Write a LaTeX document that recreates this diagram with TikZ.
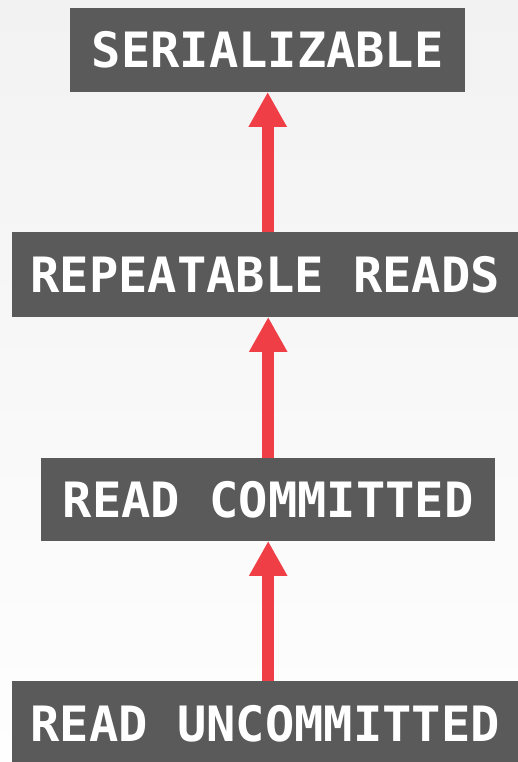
\documentclass[tikz,border=0pt]{standalone}
\usepackage{fontspec}
\setmonofont{DejaVu Sans Mono}
\usetikzlibrary{arrows.meta}
\definecolor{boxgray}{HTML}{5A5A5A}
\definecolor{arrowred}{HTML}{EF3E45}
\definecolor{bgtop}{HTML}{F2F2F2}
\definecolor{bgbot}{HTML}{FEFEFE}
\tikzset{
  levelbox/.style={fill=boxgray, text=white, inner sep=0pt, font=\fontsize{48.7pt}{48.7pt}\selectfont\ttfamily\bfseries, text height=35.5pt, text depth=0pt, anchor=south west},
  uparrow/.style={draw=arrowred, line width=12pt, -{Triangle[width=36pt,length=35pt]}}
}
\begin{document}
\begin{tikzpicture}[x=1pt,y=1pt]
\useasboundingbox (0,0) rectangle (518,762);
\shade[top color=bgtop, bottom color=bgbot] (0,0) rectangle (518,762);
\begin{scope}
\clip (0,0) rectangle (518,762);
\node[levelbox, minimum width=395pt, minimum height=84pt] (ser) at (70,670) {SERIALIZABLE};
\node[levelbox, minimum width=506pt, minimum height=85pt] (rr) at (12,445) {REPEATABLE READS};
\node[levelbox, minimum width=454pt, minimum height=83pt] (rc) at (41,221) {READ COMMITTED};
\node[levelbox, minimum width=506pt, minimum height=86pt] (ru) at (12,-5) {READ UNCOMMITTED};
\end{scope}
\draw[uparrow] (ru.north -| rc.south) -- (rc.south);
\draw[uparrow] (rc.north) -- (rr.south -| rc.north);
\draw[uparrow] (rr.north -| ser.south) -- (ser.south);
\end{tikzpicture}
\end{document}
